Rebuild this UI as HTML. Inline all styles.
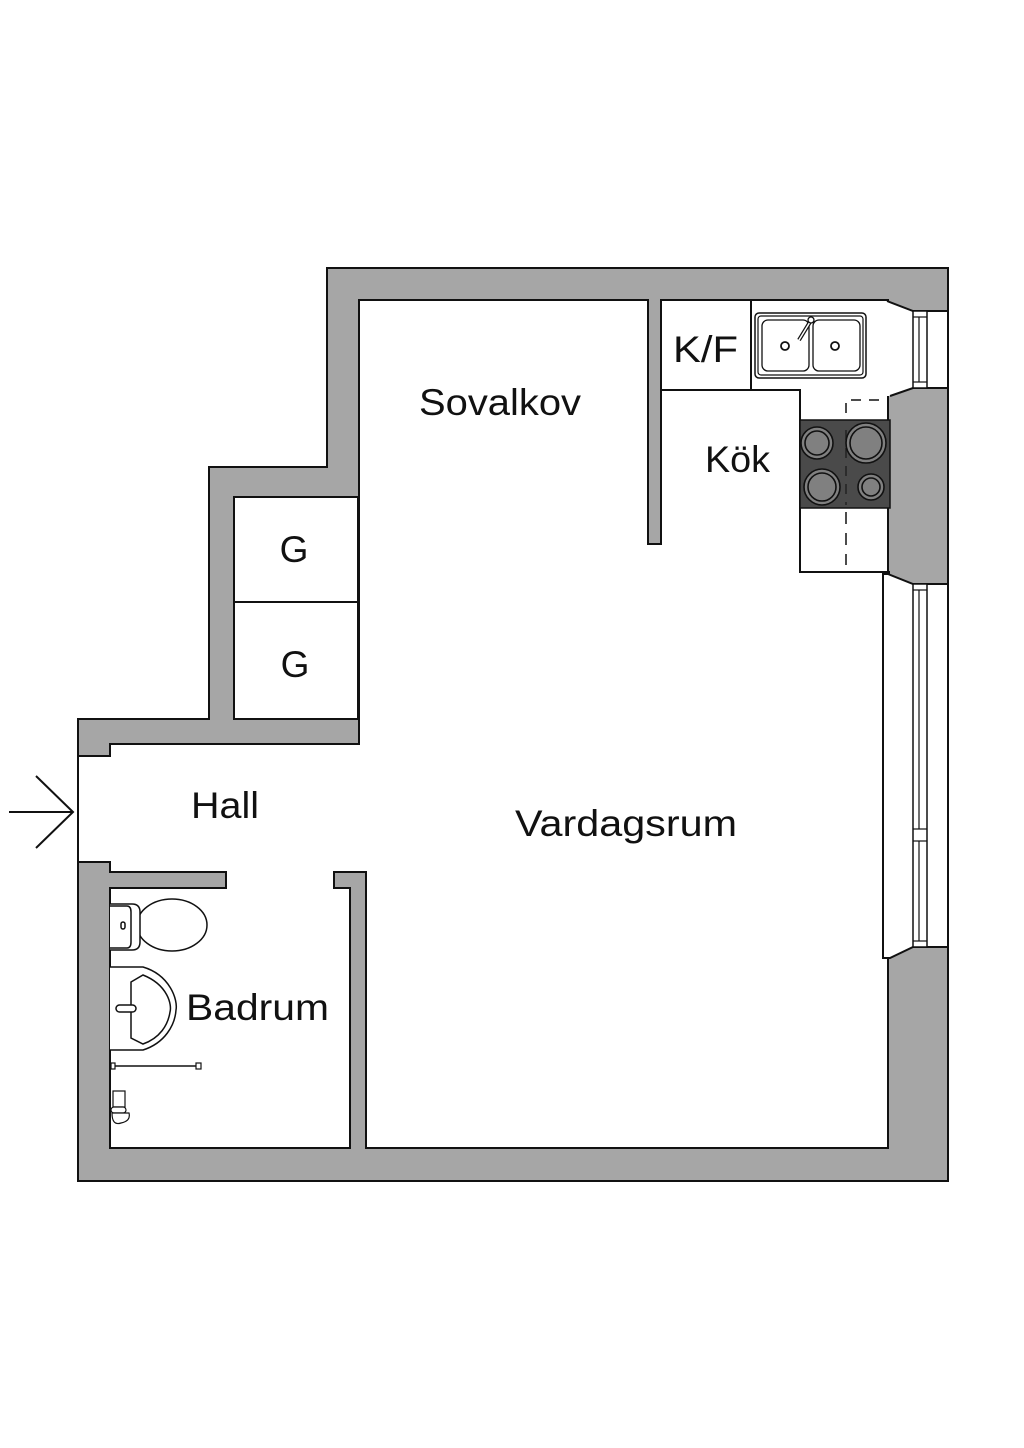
<!DOCTYPE html>
<html><head><meta charset="utf-8"><style>html,body{margin:0;padding:0;background:#fff}svg{display:block}</style></head>
<body>
<svg width="1024" height="1448" viewBox="0 0 1024 1448" xmlns="http://www.w3.org/2000/svg" font-family="Liberation Sans, sans-serif">
<rect width="1024" height="1448" fill="#fff"/>
<!-- outer walls -->
<polygon points="327,268 948,268 948,1181 78,1181 78,719 209,719 209,467 327,467" fill="#a6a6a6" stroke="#111" stroke-width="2"/>
<!-- interior -->
<polygon points="359,300 648,300 648,544 661,544 661,300 888,300 888,1148 366,1148 366,872 334,872 334,888 350,888 350,1148 110,1148 110,888 226,888 226,872 110,872 110,862 78,862 78,756 110,756 110,744 359,744" fill="#fff" stroke="#111" stroke-width="2"/>
<!-- closets -->
<rect x="234" y="497" width="124" height="105" fill="#fff" stroke="#111" stroke-width="2"/>
<rect x="234" y="602" width="124" height="117" fill="#fff" stroke="#111" stroke-width="2"/>
<!-- upper window -->
<polygon points="887,301 913,311 947,311 947,388 913,388 890,396 887,396" fill="#fff"/>
<polyline points="887,301 913,311 947,311" fill="none" stroke="#111" stroke-width="2"/>
<polyline points="947,388 913,388 890,396" fill="none" stroke="#111" stroke-width="2"/>
<rect x="913" y="311" width="14" height="77" fill="#fff" stroke="#111" stroke-width="1.5"/>
<line x1="919" y1="317" x2="919" y2="382" stroke="#111" stroke-width="1.2"/>
<line x1="913" y1="317" x2="927" y2="317" stroke="#111" stroke-width="1.2"/>
<line x1="913" y1="382" x2="927" y2="382" stroke="#111" stroke-width="1.2"/>
<line x1="948" y1="311" x2="948" y2="388" stroke="#111" stroke-width="2"/>
<!-- lower window -->
<polygon points="883,574 890,574 913,584 947,584 947,947 913,947 890,958 883,958" fill="#fff"/>
<polyline points="888,574 913,584 947,584" fill="none" stroke="#111" stroke-width="2"/>
<polyline points="947,947 913,947 890,958 883,958 883,574 890,574" fill="none" stroke="#111" stroke-width="2"/>
<rect x="913" y="584" width="14" height="363" fill="#fff" stroke="#111" stroke-width="1.5"/>
<line x1="919" y1="590" x2="919" y2="829" stroke="#111" stroke-width="1.2"/>
<line x1="919" y1="841" x2="919" y2="941" stroke="#111" stroke-width="1.2"/>
<line x1="913" y1="590" x2="927" y2="590" stroke="#111" stroke-width="1.2"/>
<line x1="913" y1="829" x2="927" y2="829" stroke="#111" stroke-width="1.2"/>
<line x1="913" y1="841" x2="927" y2="841" stroke="#111" stroke-width="1.2"/>
<line x1="913" y1="941" x2="927" y2="941" stroke="#111" stroke-width="1.2"/>
<line x1="948" y1="584" x2="948" y2="947" stroke="#111" stroke-width="2"/>
<!-- kitchen -->
<rect x="661" y="300" width="90" height="90" fill="#fff" stroke="#111" stroke-width="2"/>
<polyline points="751,300 751,390 800,390 800,572 890,572" fill="none" stroke="#111" stroke-width="2"/>
<rect x="755" y="313" width="111" height="65" rx="4" fill="#fff" stroke="#111" stroke-width="1.5"/>
<rect x="758" y="316" width="105" height="59" rx="3" fill="none" stroke="#111" stroke-width="1.2"/>
<rect x="762" y="320" width="47" height="51" rx="6" fill="none" stroke="#111" stroke-width="1.3"/>
<rect x="813" y="320" width="47" height="51" rx="6" fill="none" stroke="#111" stroke-width="1.3"/>
<circle cx="785" cy="346" r="4" fill="none" stroke="#111" stroke-width="1.8"/>
<circle cx="835" cy="346" r="4" fill="none" stroke="#111" stroke-width="1.8"/>
<line x1="799" y1="340" x2="810" y2="322" stroke="#111" stroke-width="4"/>
<line x1="799" y1="340" x2="810" y2="322" stroke="#fff" stroke-width="1.5"/>
<circle cx="811" cy="320" r="3" fill="#fff" stroke="#111" stroke-width="1.3"/>
<path d="M846,413 V400 H888" fill="none" stroke="#111" stroke-width="1.5" stroke-dasharray="10,8"/>
<rect x="800" y="420" width="90" height="88" fill="#4a4a4a" stroke="#111" stroke-width="1.5"/>
<line x1="846" y1="512" x2="846" y2="565" stroke="#111" stroke-width="1.5" stroke-dasharray="12,9"/>
<line x1="846" y1="430" x2="846" y2="505" stroke="#222" stroke-width="1.5" stroke-dasharray="10,8"/>
<g fill="#808080" stroke="#111" stroke-width="1.6">
<circle cx="817" cy="443" r="16"/><circle cx="817" cy="443" r="12" fill="none"/>
<circle cx="866" cy="443" r="20"/><circle cx="866" cy="443" r="16" fill="none"/>
<circle cx="822" cy="487" r="18"/><circle cx="822" cy="487" r="14" fill="none"/>
<circle cx="871" cy="487" r="13"/><circle cx="871" cy="487" r="9" fill="none"/>
</g>
<!-- entrance arrow -->
<g stroke="#111" stroke-width="2" fill="none">
<line x1="9" y1="812" x2="73" y2="812"/>
<polyline points="36,776 73,812 36,848"/>
</g>
<!-- toilet -->
<g fill="#fff" stroke="#111" stroke-width="1.5">
<ellipse cx="172" cy="925" rx="35" ry="26"/>
<path d="M110,904 H132 Q140,904 140,912 V942 Q140,950 132,950 H110"/>
<path d="M110,906 H127 Q131,906 131,912 V942 Q131,948 127,948 H110"/>
<rect x="121" y="922" width="4" height="7" rx="2"/>
</g>
<!-- sink -->
<g fill="#fff" stroke="#111" stroke-width="1.5">
<path d="M110,967 H143 C170,975 178,1000 176,1010 C175,1025 165,1043 143,1050 H110"/>
<path d="M131,982 L143,975 C168,985 172,1005 170,1012 C168,1025 160,1038 143,1044 L131,1038 Z"/>
<rect x="116" y="1005" width="20" height="7" rx="3.5"/>
</g>
<line x1="114" y1="1066" x2="198" y2="1066" stroke="#111" stroke-width="1.5"/>
<rect x="111" y="1063" width="4" height="6" fill="#fff" stroke="#111" stroke-width="1.2"/>
<rect x="196" y="1063" width="5" height="6" fill="#fff" stroke="#111" stroke-width="1.2"/>
<g fill="#fff" stroke="#111" stroke-width="1.2">
<rect x="113" y="1091" width="12" height="16"/>
<rect x="111" y="1107" width="15" height="6" rx="3"/>
<path d="M112,1113 Q112,1126 121,1123 Q131,1121 129,1113 Z"/>
</g>
<!-- labels -->
<g fill="#111" font-size="37">
<text x="500" y="415" text-anchor="middle" textLength="162" lengthAdjust="spacingAndGlyphs">Sovalkov</text>
<text x="673" y="362" textLength="65" lengthAdjust="spacingAndGlyphs">K/F</text>
<text x="705" y="472" textLength="65" lengthAdjust="spacingAndGlyphs">Kök</text>
<text x="294" y="562" text-anchor="middle">G</text>
<text x="295" y="677" text-anchor="middle">G</text>
<text x="191" y="818" textLength="68" lengthAdjust="spacingAndGlyphs">Hall</text>
<text x="515" y="836" textLength="222" lengthAdjust="spacingAndGlyphs">Vardagsrum</text>
<text x="186" y="1020" textLength="143" lengthAdjust="spacingAndGlyphs">Badrum</text>
</g>
</svg>
</body></html>
